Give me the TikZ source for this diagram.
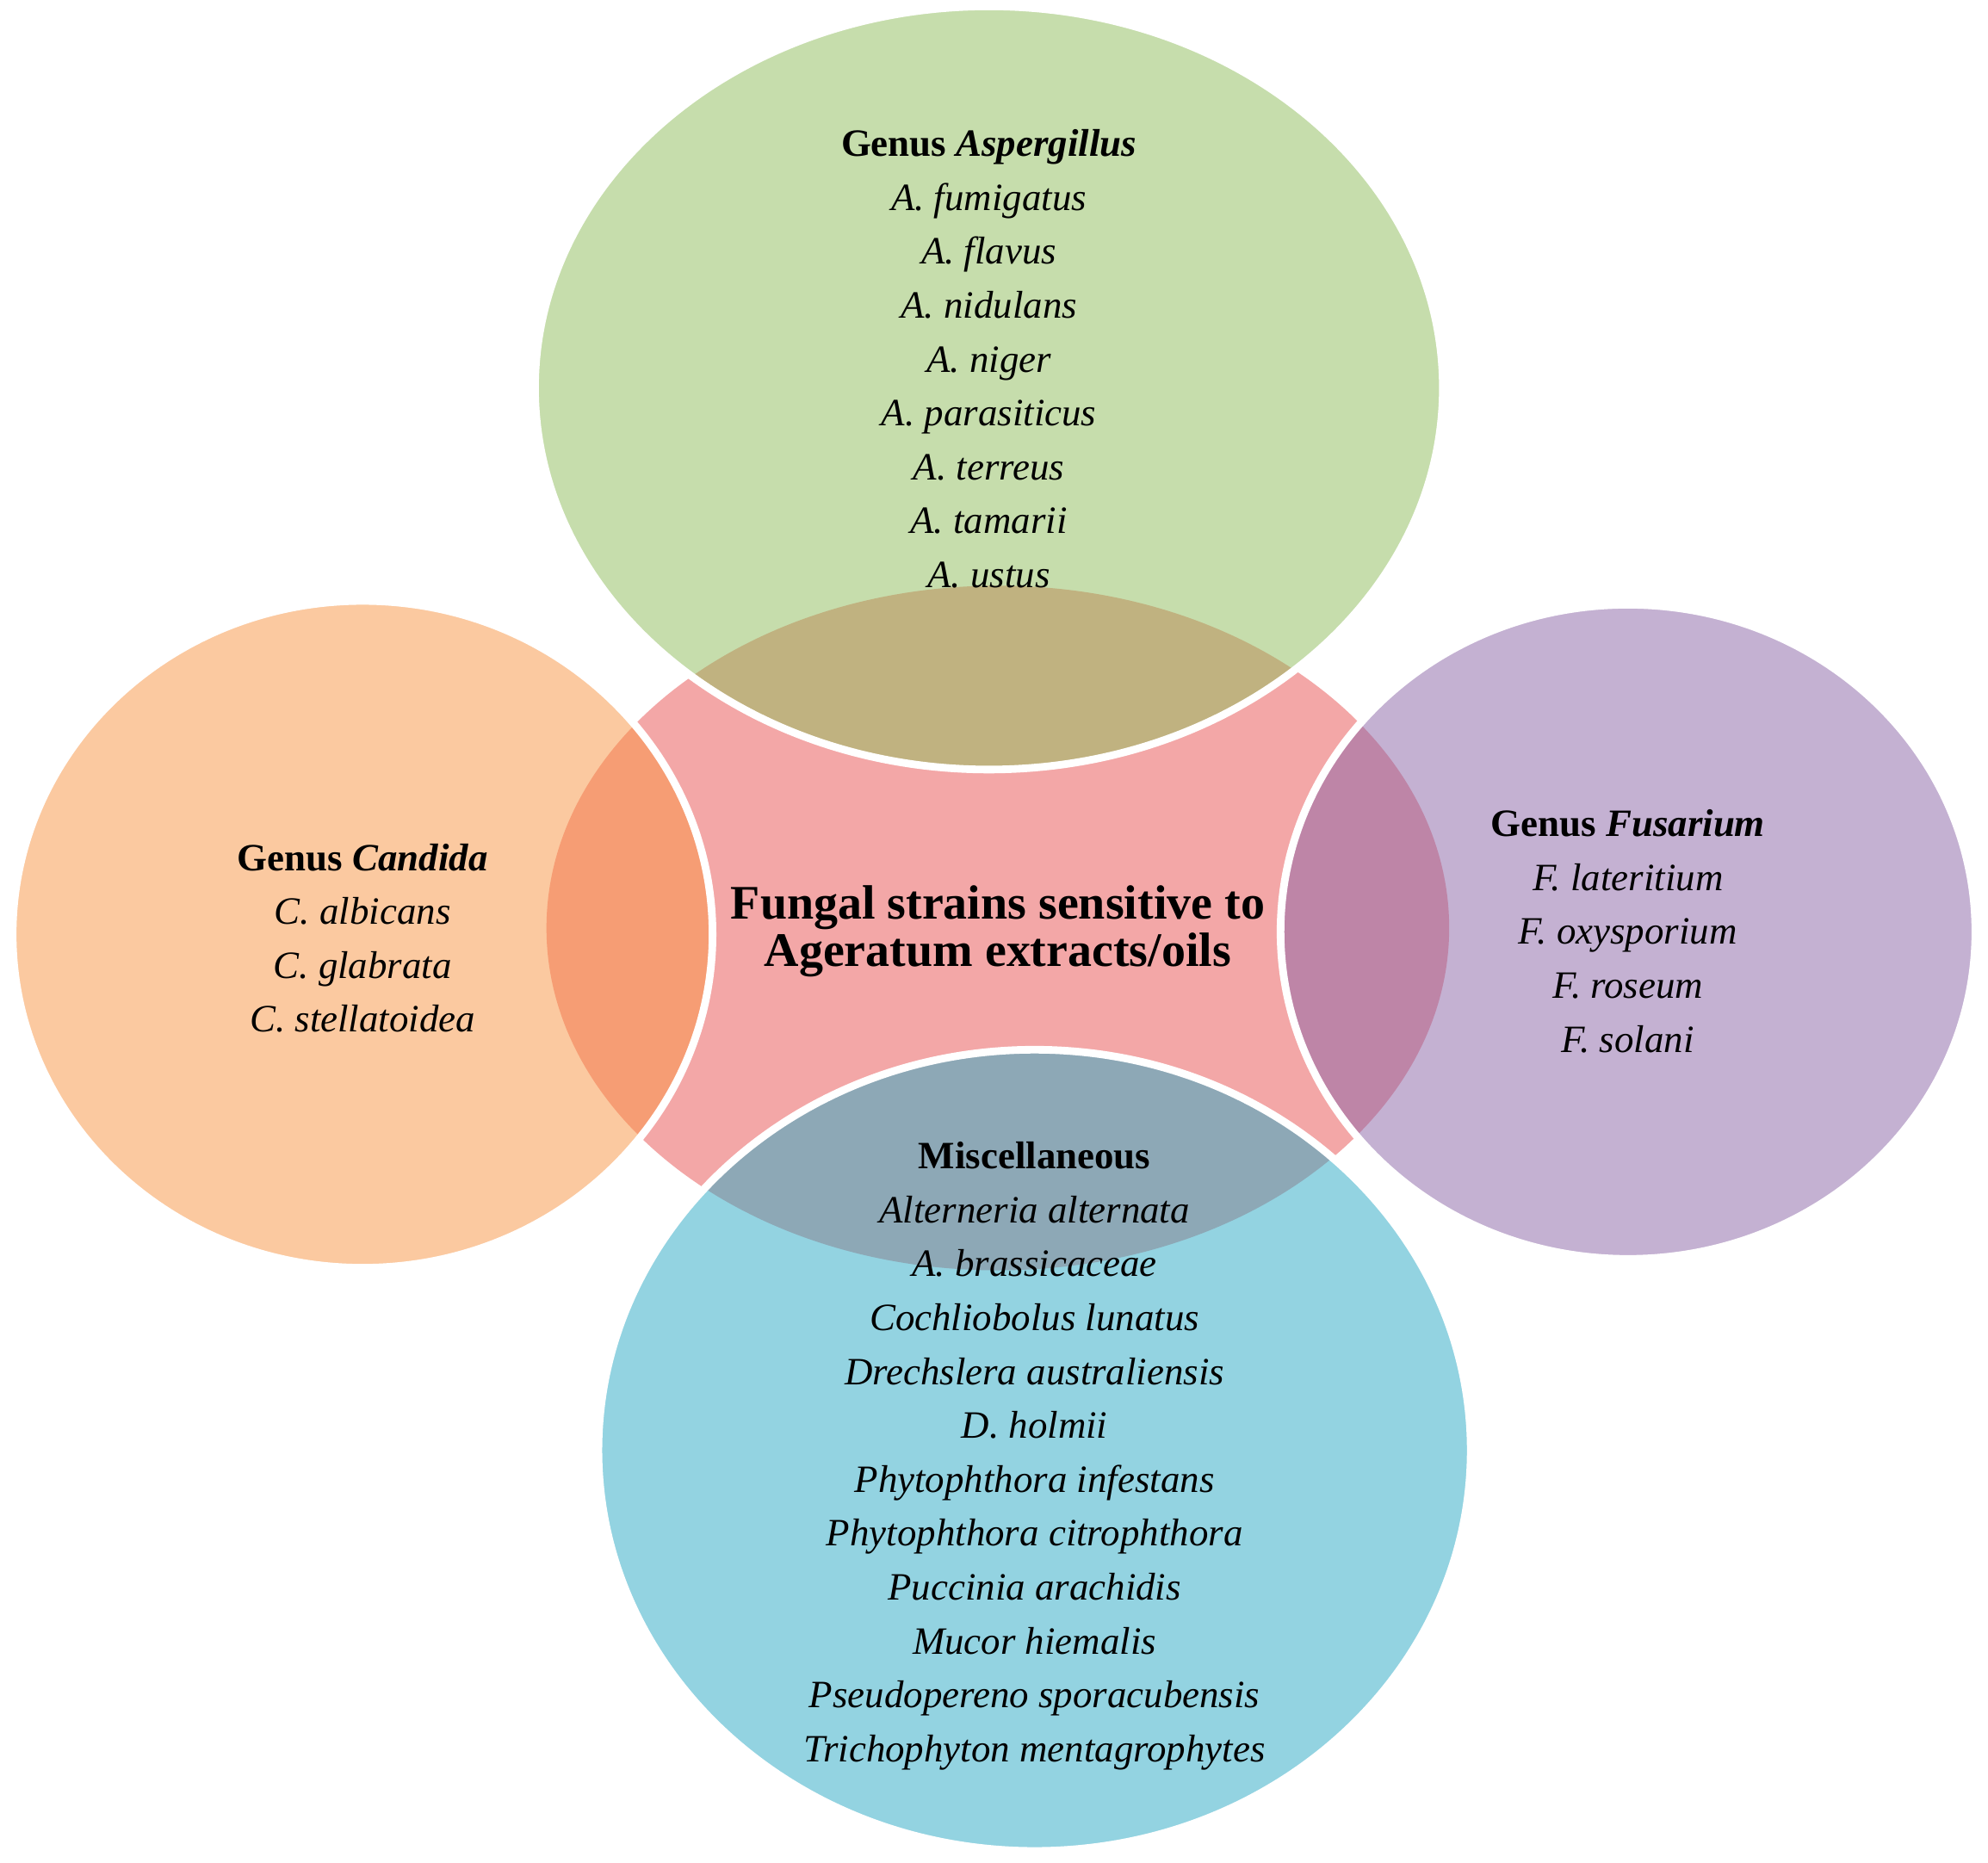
\documentclass[tikz,border=0pt]{standalone}
\usepackage{fontspec}
\setmainfont{Liberation Serif}
\usetikzlibrary{shapes.geometric}
\definecolor{pinkc}{RGB}{243,167,167}
\definecolor{greenc}{RGB}{143,189,91}
\definecolor{orangec}{RGB}{249,148,66}
\definecolor{purplec}{RGB}{139,101,167}
\definecolor{bluec}{RGB}{40,169,197}
\begin{document}
\begin{tikzpicture}[x=1pt,y=-1pt,
  blob/.style={ellipse, inner sep=0pt, outer sep=0pt, fill opacity=0.5, draw=white, draw opacity=1, line width=6pt},
  lst/.style={align=center, inner sep=0pt, text=black, font=\fontsize{30.5}{42.5}\selectfont\itshape},
  ttl/.style={align=center, inner sep=0pt, text=black, font=\fontsize{38}{37.5}\selectfont\bfseries}]
\useasboundingbox[fill=white] (0,0) rectangle (1568,1469);
% centre shape
\node[ellipse, inner sep=0pt, fill=pinkc, minimum width=712pt, minimum height=540pt] (centre) at (787,732) {};
% outer shapes
\node[blob, fill=greenc, minimum width=716pt, minimum height=602pt] (top) at (780,306) {};
\node[blob, fill=purplec, minimum width=548pt, minimum height=516pt] (right) at (1284,735) {};
\node[blob, fill=bluec, minimum width=688pt, minimum height=632pt] (bottom) at (816,1144) {};
\node[blob, fill=orangec, minimum width=552pt, minimum height=526pt] (left) at (286,737) {};
% texts
\node[ttl] (title) at (787,734.5) {Fungal strains sensitive to\\Ageratum extracts/oils};
\node[lst] (asp) at (780,283) {\textbf{\textup{Genus} Aspergillus}\\A. fumigatus\\A. flavus\\A. nidulans\\A. niger\\A. parasiticus\\A. terreus\\A. tamarii\\A. ustus};
\node[lst] (cand) at (286,740) {\textbf{\textup{Genus} Candida}\\C. albicans\\C. glabrata\\C. stellatoidea};
\node[lst] (fus) at (1284,734.5) {\textbf{\textup{Genus} Fusarium}\\F. lateritium\\F. oxysporium\\F. roseum\\F. solani};
\node[lst] (misc) at (816,1148.5) {\textbf{\textup{Miscellaneous}}\\Alterneria alternata\\A. brassicaceae\\Cochliobolus lunatus\\Drechslera australiensis\\D. holmii\\Phytophthora infestans\\Phytophthora citrophthora\\Puccinia arachidis\\Mucor hiemalis\\Pseudopereno sporacubensis\\Trichophyton mentagrophytes};
\end{tikzpicture}
\end{document}
